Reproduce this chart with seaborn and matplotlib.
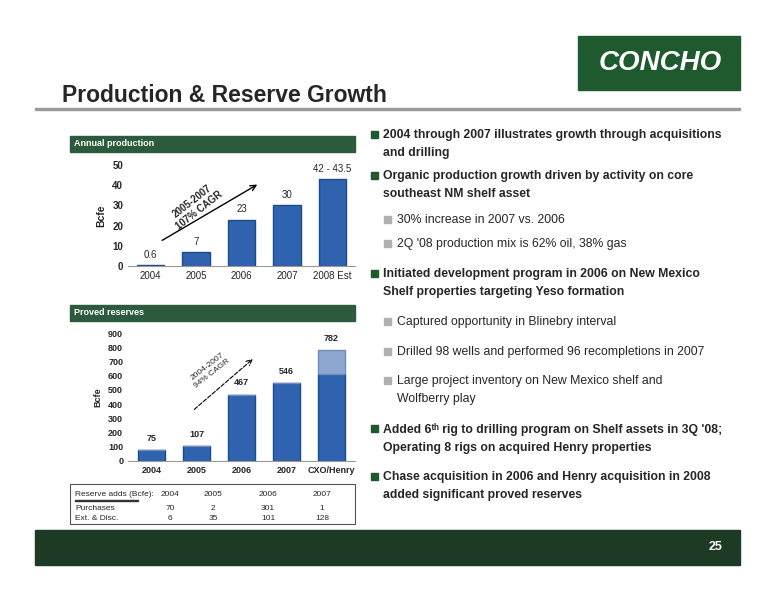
import matplotlib.pyplot as plt
import seaborn as sns
import pandas as pd
from matplotlib.patches import Rectangle

prod_years = ["2004", "2005", "2006", "2007", "2008 Est"]
prod_values = [0.6, 7, 23, 30, 43]
prod_labels = ["0.6", "7", "23", "30", "42 - 43.5"]

res_years = ["2004", "2005", "2006", "2007", "CXO/Henry"]
res_values = [75, 107, 467, 546, 610]
res_henry_extra = [0, 0, 0, 0, 172]
res_labels = ["75", "107", "467", "546", "782"]

table_years = ["2004", "2005", "2006", "2007"]
purchases = ["70", "2", "301", "1"]
ext_disc = ["6", "35", "101", "128"]

bullets = [
    (0, "2004 through 2007 illustrates growth through acquisitions\nand drilling"),
    (0, "Organic production growth driven by activity on core\nsoutheast NM shelf asset"),
    (1, "30% increase in 2007 vs. 2006"),
    (1, "2Q '08 production mix is 62% oil, 38% gas"),
    (0, "Initiated development program in 2006 on New Mexico\nShelf properties targeting Yeso formation"),
    (1, "Captured opportunity in Blinebry interval"),
    (1, "Drilled 98 wells and performed 96 recompletions in 2007"),
    (1, "Large project inventory on New Mexico shelf and\nWolfberry play"),
    (0, "Added 6ᵗʰ rig to drilling program on Shelf assets in 3Q '08;\nOperating 8 rigs on acquired Henry properties"),
    (0, "Chase acquisition in 2006 and Henry acquisition in 2008\nadded significant proved reserves"),
]
bullet_y = [135, 176, 220, 244, 274, 322, 352, 381, 429, 477]

sns.set_style("white")
plt.rcParams["font.family"] = ["Liberation Sans", "DejaVu Sans"]

W, H = 776, 600
fig = plt.figure(figsize=(W / 100, H / 100), dpi=100)
BLUE = "#2f63b0"
GREEN = "#2c5a3c"


def fx(x):
    return x / W


def fy(y):
    return 1 - y / H


def rect(x0, y0, x1, y1, color, **kw):
    fig.patches.append(Rectangle((fx(x0), fy(y1)), fx(x1) - fx(x0), fy(y0) - fy(y1),
                                 transform=fig.transFigure, color=color, **kw))


# header
rect(578, 36, 740, 90, "#1f5a2e")
fig.text(fx(660), fy(63), "CONCHO", color="white", fontsize=20, fontweight="bold",
         style="italic", ha="center", va="center")
fig.text(fx(62), fy(96), "Production & Reserve Growth", fontsize=16.5, fontweight="bold",
         ha="left", va="center")
rect(35, 108, 740, 110, "#9a9a9a")

# section headers
rect(70, 136, 355, 152, GREEN)
fig.text(fx(74), fy(144), "Annual production", color="white", fontsize=6.5,
         fontweight="bold", va="center")
rect(70, 305, 355, 321, GREEN)
fig.text(fx(74), fy(313), "Proved reserves", color="white", fontsize=6.5,
         fontweight="bold", va="center")

# production chart
ax1 = fig.add_axes([fx(128), fy(266), fx(355) - fx(128), fy(165) - fy(266)])
df1 = pd.DataFrame({"year": prod_years, "value": prod_values})
sns.barplot(data=df1, x="year", y="value", color=BLUE, width=0.6, saturation=1,
            edgecolor="#1d4a8c", ax=ax1)
for i, (v, lab) in enumerate(zip(prod_values, prod_labels)):
    ax1.text(i, v + 2.5, lab, ha="center", va="bottom", fontsize=7)
ax1.set_ylim(0, 50)
ax1.set_yticks(range(0, 51, 10))
ax1.set_xlabel("")
ax1.set_ylabel("Bcfe", fontsize=7.5, fontweight="bold")
ax1.tick_params(labelsize=7, length=0)
for lab in ax1.get_yticklabels():
    lab.set_fontweight("bold")
sns.despine(ax=ax1, top=True, right=True)
ax1.spines["left"].set_visible(False)
ax1.spines["bottom"].set_color("#999999")
ax1.annotate("", xy=(2.4, 41), xytext=(0.2, 12),
             arrowprops=dict(arrowstyle="->", color="black", lw=1))
ax1.text(1.0, 30, "2005-2007\n107% CAGR", rotation=38, ha="center", va="center",
         fontsize=7, fontweight="bold")

# reserves chart
ax2 = fig.add_axes([fx(128), fy(461), fx(355) - fx(128), fy(333) - fy(461)])
df2 = pd.DataFrame({"year": res_years, "value": res_values})
sns.barplot(data=df2, x="year", y="value", color=BLUE, width=0.6, saturation=1,
            edgecolor="#1d4a8c", ax=ax2)
ax2.bar(range(len(res_years)), res_henry_extra, bottom=res_values, width=0.6,
        color="#8ea7d0", edgecolor="#6f8cbf")
for i, (v, e, lab) in enumerate(zip(res_values, res_henry_extra, res_labels)):
    ax2.text(i, v + e + 50, lab, ha="center", va="bottom", fontsize=6.5, fontweight="bold")
ax2.set_ylim(0, 900)
ax2.set_yticks(range(0, 901, 100))
ax2.set_xlabel("")
ax2.set_ylabel("Bcfe", fontsize=6.5, fontweight="bold")
ax2.tick_params(labelsize=6.5, length=0)
for lab in ax2.get_yticklabels() + ax2.get_xticklabels():
    lab.set_fontweight("bold")
sns.despine(ax=ax2, top=True, right=True)
ax2.spines["left"].set_visible(False)
ax2.spines["bottom"].set_color("#999999")
ax2.annotate("", xy=(2.3, 730), xytext=(0.9, 350),
             arrowprops=dict(arrowstyle="->", color="black", lw=0.8, linestyle="--"))
ax2.text(1.3, 640, "2004-2007\n94% CAGR", rotation=38, ha="center", va="center",
         fontsize=6)

# table
fig.patches.append(Rectangle((fx(70), fy(524)), fx(355) - fx(70), fy(484) - fy(524),
                             transform=fig.transFigure, fill=False, edgecolor="#555555", lw=0.8))
fig.text(fx(75), fy(494), "Reserve adds (Bcfe):", fontsize=6, va="center")
rect(75, 500, 138, 500.8, "#333333")
fig.text(fx(75), fy(508), "Purchases", fontsize=6, va="center")
fig.text(fx(75), fy(518), "Ext. & Disc.", fontsize=6, va="center")
col_x = [170, 213, 268, 322]
for cx, yr, p, e in zip(col_x, table_years, purchases, ext_disc):
    fig.text(fx(cx), fy(494), yr, fontsize=6, ha="center", va="center")
    fig.text(fx(cx), fy(508), p, fontsize=6, ha="center", va="center")
    fig.text(fx(cx), fy(518), e, fontsize=6, ha="center", va="center")

# bullets
for (lvl, txt), y in zip(bullets, bullet_y):
    if lvl == 0:
        rect(371, y - 4, 378, y + 3, "#1f5a2e")
        fig.text(fx(383), fy(y - 6), txt, fontsize=8.8, fontweight="bold", va="top",
                 linespacing=1.7)
    else:
        rect(384, y - 4, 391, y + 3, "#b0b0b0")
        fig.text(fx(397), fy(y - 6), txt, fontsize=8.8, va="top", linespacing=1.7)

# footer
rect(35, 530, 740, 565, "#1c3a24")
fig.text(fx(716), fy(547), "25", color="white", fontsize=9, fontweight="bold",
         ha="center", va="center")

fig.savefig("out.png", dpi=100)
